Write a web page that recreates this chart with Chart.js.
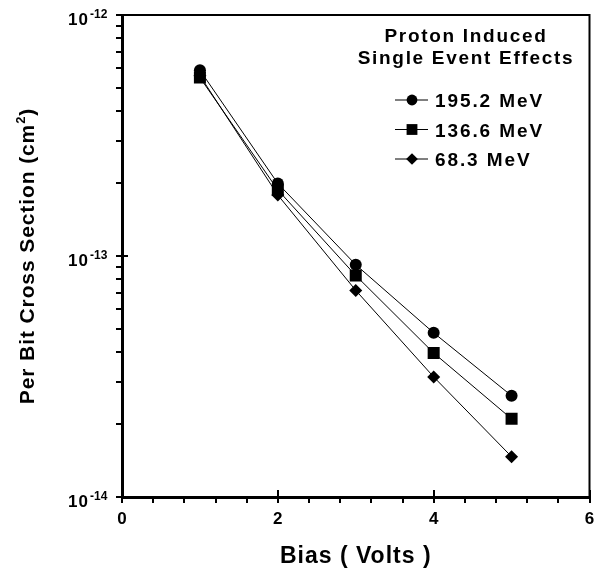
<!DOCTYPE html>
<html>
<head>
<meta charset="utf-8">
<script src="https://cdn.jsdelivr.net/npm/chart.js@4.4.1/dist/chart.umd.min.js"></script>
<style>
  body { margin: 0; background: #fff; }
  canvas { display: block; }
</style>
</head>
<body>
<canvas id="chart" width="598" height="569"></canvas>
<script>
// values
const biasVolts = [1, 2, 3, 4, 5];
const mev195 = [5.9e-13, 2.0e-13, 9.2e-14, 4.8e-14, 2.63e-14];
const mev136 = [5.5e-13, 1.88e-13, 8.3e-14, 3.96e-14, 2.11e-14];
const mev68 = [5.6e-13, 1.79e-13, 7.2e-14, 3.15e-14, 1.47e-14];
const seriesNames = ["195.2 MeV", "136.6 MeV", "68.3 MeV"];

const xTickLabels = [0, 2, 4, 6];
const xMinorStep = 0.4;
const yTickExponents = [-14, -13, -12];
const legendTitle = ["Proton Induced", "Single Event Effects"];
const xTitle = "Bias ( Volts )";
const yTitle = "Per Bit Cross Section (cm";

const FONT = '"Liberation Sans", Arial, sans-serif';
const bold = (px) => `bold ${px}px ${FONT}`;

const toPoints = (vals) => biasVolts.map((b, i) => ({ x: b, y: vals[i] }));

// frame, tick marks, axis titles, y labels and legend
const decor = {
  id: "decor",
  afterDraw(chart) {
    const ctx = chart.ctx;
    const area = chart.chartArea;
    const xs = chart.scales.x;
    const ys = chart.scales.y;
    ctx.save();
    ctx.strokeStyle = "#000";
    ctx.fillStyle = "#000";

    ctx.lineWidth = 2;
    ctx.beginPath();
    ctx.moveTo(area.left, area.top);
    ctx.lineTo(area.right, area.top);
    ctx.lineTo(area.right, area.bottom);
    ctx.stroke();

    ctx.beginPath();
    ys.ticks.forEach((t) => {
      const py = Math.round(ys.getPixelForValue(t.value));
      const lg = Math.log10(t.value);
      const major = Math.abs(lg - Math.round(lg)) < 1e-6;
      ctx.moveTo(area.left - 6, py);
      ctx.lineTo(area.left + (major ? 6 : 0), py);
    });
    xs.ticks.forEach((t) => {
      const px = Math.round(xs.getPixelForValue(t.value));
      const major = xTickLabels.some((v) => Math.abs(v - t.value) < 1e-6);
      ctx.moveTo(px, area.bottom + 6);
      ctx.lineTo(px, area.bottom - (major ? 7 : 0));
    });
    ctx.stroke();

    // y tick labels 10^n
    yTickExponents.forEach((e) => {
      const py = ys.getPixelForValue(Math.pow(10, e));
      ctx.font = bold(17);
      ctx.letterSpacing = "1px";
      ctx.textAlign = "right";
      ctx.textBaseline = "alphabetic";
      ctx.fillText("10", 89, py + 9.5);
      ctx.font = bold(12);
      ctx.letterSpacing = "0px";
      ctx.textAlign = "left";
      ctx.fillText(String(e), 90, py + 2.5);
    });

    // x title
    ctx.font = bold(23);
    ctx.letterSpacing = "1px";
    ctx.textAlign = "center";
    ctx.fillText(xTitle, (area.left + area.right) / 2, 563);

    // y title, rotated
    ctx.save();
    ctx.translate(26, 256);
    ctx.rotate(-Math.PI / 2);
    ctx.textAlign = "left";
    ctx.font = bold(21);
    ctx.letterSpacing = "0.9px";
    const w1 = ctx.measureText(yTitle).width;
    const w3 = ctx.measureText(")").width;
    ctx.font = bold(13);
    const w2 = ctx.measureText("2").width;
    let tx = -(w1 + w2 + w3) / 2;
    ctx.font = bold(21);
    ctx.fillText(yTitle, tx, 7.5);
    tx += w1;
    ctx.font = bold(13);
    ctx.fillText("2", tx, -1);
    tx += w2;
    ctx.font = bold(21);
    ctx.fillText(")", tx, 7.5);
    ctx.restore();

    // legend
    ctx.font = bold(19);
    ctx.letterSpacing = "1.7px";
    ctx.textAlign = "center";
    ctx.fillText(legendTitle[0], 466, 42);
    ctx.fillText(legendTitle[1], 466, 64);

    ctx.textAlign = "left";
    ctx.letterSpacing = "1.9px";
    chart.data.datasets.forEach((ds, i) => {
      const ry = 100 + i * 29.5;
      ctx.lineWidth = 1;
      ctx.beginPath();
      ctx.moveTo(395, ry);
      ctx.lineTo(428, ry);
      ctx.stroke();
      Chart.helpers.drawPoint(ctx, {
        pointStyle: ds.pointStyle,
        radius: ds.pointRadius * 0.9,
        rotation: 0,
        borderWidth: 0
      }, 412, ry);
      ctx.fillText(ds.label, 435, ry + 7);
    });
    ctx.restore();
  }
};

const lineSet = (label, vals, style, radius) => ({
  label: label,
  data: toPoints(vals),
  borderColor: "#000",
  borderWidth: 1,
  backgroundColor: "#000",
  pointBackgroundColor: "#000",
  pointBorderWidth: 0,
  pointStyle: style,
  pointRadius: radius,
  fill: false,
  tension: 0
});

new Chart(document.getElementById("chart"), {
  type: "line",
  data: {
    datasets: [
      lineSet(seriesNames[0], mev195, "circle", 6),
      lineSet(seriesNames[1], mev136, "rect", 8.5),
      lineSet(seriesNames[2], mev68, "rectRot", 6.5)
    ]
  },
  options: {
    responsive: false,
    animation: false,
    devicePixelRatio: 1,
    layout: { padding: { top: 15, right: 7, left: 0, bottom: 0 } },
    plugins: { legend: { display: false }, tooltip: { enabled: false } },
    scales: {
      x: {
        type: "linear",
        min: 0,
        max: 6,
        grid: { display: false, drawTicks: false },
        border: { display: true, width: 3, color: "#000" },
        afterBuildTicks: (scale) => {
          const ticks = [];
          for (let i = 0; i * xMinorStep <= 6 + 1e-9; i++) {
            ticks.push({ value: Math.round(i * xMinorStep * 10) / 10 });
          }
          scale.ticks = ticks;
        },
        afterFit: (scale) => {
          scale.height = 72;
          scale.paddingLeft = 0;
          scale.paddingRight = 0;
        },
        ticks: {
          autoSkip: false,
          maxRotation: 0,
          padding: 12,
          color: "#000",
          font: { family: FONT, size: 17, weight: "bold" },
          callback: (v) => (xTickLabels.some((t) => Math.abs(t - v) < 1e-6) ? String(Math.round(v)) : "")
        }
      },
      y: {
        type: "logarithmic",
        min: Math.pow(10, yTickExponents[0]),
        max: Math.pow(10, yTickExponents[yTickExponents.length - 1]),
        grid: { display: false, drawTicks: false },
        border: { display: true, width: 3, color: "#000" },
        afterBuildTicks: (scale) => {
          const ticks = [];
          for (let k = 0; k < yTickExponents.length - 1; k++) {
            for (let m = 1; m < 10; m++) {
              ticks.push({ value: m * Math.pow(10, yTickExponents[k]) });
            }
          }
          ticks.push({ value: Math.pow(10, yTickExponents[yTickExponents.length - 1]) });
          scale.ticks = ticks;
        },
        afterFit: (scale) => { scale.width = 122; },
        ticks: { display: false }
      }
    }
  },
  plugins: [decor]
});
</script>
</body>
</html>
